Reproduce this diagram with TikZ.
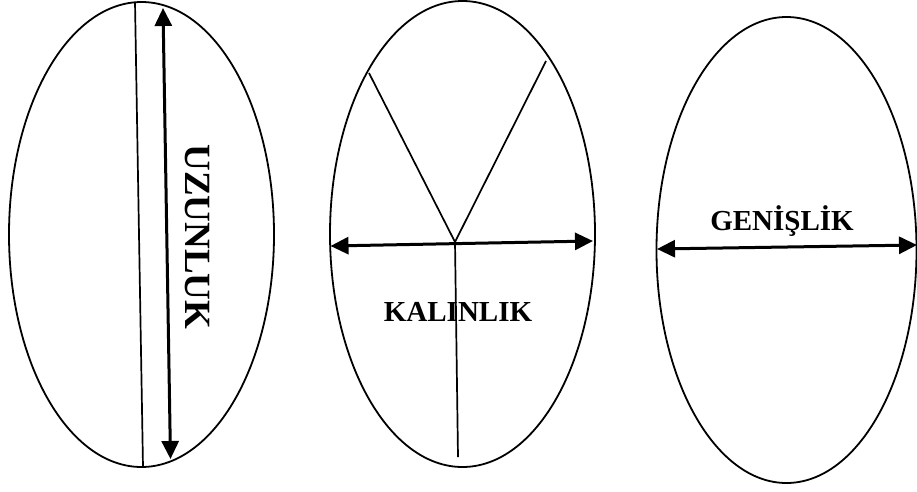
\documentclass[tikz,border=0pt]{standalone}
\usepackage{fontspec}
\setmainfont{Liberation Serif}
\usetikzlibrary{arrows.meta}
\begin{document}
\begin{tikzpicture}[x=1pt,y=-1pt,
  ell/.style={draw, line width=1.8pt},
  thinline/.style={line width=1.7pt},
  dim/.style={line width=3pt, {Triangle[length=18pt,width=17pt]}-{Triangle[length=18pt,width=17pt]}},
  lbl/.style={font=\bfseries\fontsize{29}{29}\selectfont, inner sep=0pt}]
\useasboundingbox (0,0) rectangle (917,491);
% left ellipse
\draw[ell] (141.5,234.5) ellipse [x radius=132.5, y radius=232.5];
\coordinate (l1) at (135,2);
\coordinate (l2) at (143,467);
\draw[thinline] (l1) -- (l2);
\coordinate (la) at (163,8);
\coordinate (lb) at (170.5,459);
\draw[dim] (la) -- (lb);
\node[lbl, rotate=-90, font=\bfseries\fontsize{37}{37}\selectfont] (uz) at (197,237) {UZUNLUK};
% middle ellipse
\draw[ell] (462.5,234) ellipse [x radius=132.5, y radius=233];
\coordinate (v1) at (369,73);
\coordinate (vc) at (455,242);
\coordinate (v2) at (546,61);
\coordinate (vb) at (458,457);
\draw[thinline] (v1) -- (vc) -- (v2);
\draw[thinline] (vc) -- (vb);
\coordinate (ma) at (330.5,246);
\coordinate (mb) at (593,241);
\draw[dim] (ma) -- (mb);
\node[lbl] (ka) at (458,312) {KALINLIK};
% right ellipse
\draw[ell] (786.5,250) ellipse [x radius=130, y radius=233];
\coordinate (ra) at (657,249);
\coordinate (rb) at (917,245);
\draw[dim] (ra) -- (rb);
\node[lbl] (ge) at (782,221) {GENİŞLİK};
\end{tikzpicture}
\end{document}
